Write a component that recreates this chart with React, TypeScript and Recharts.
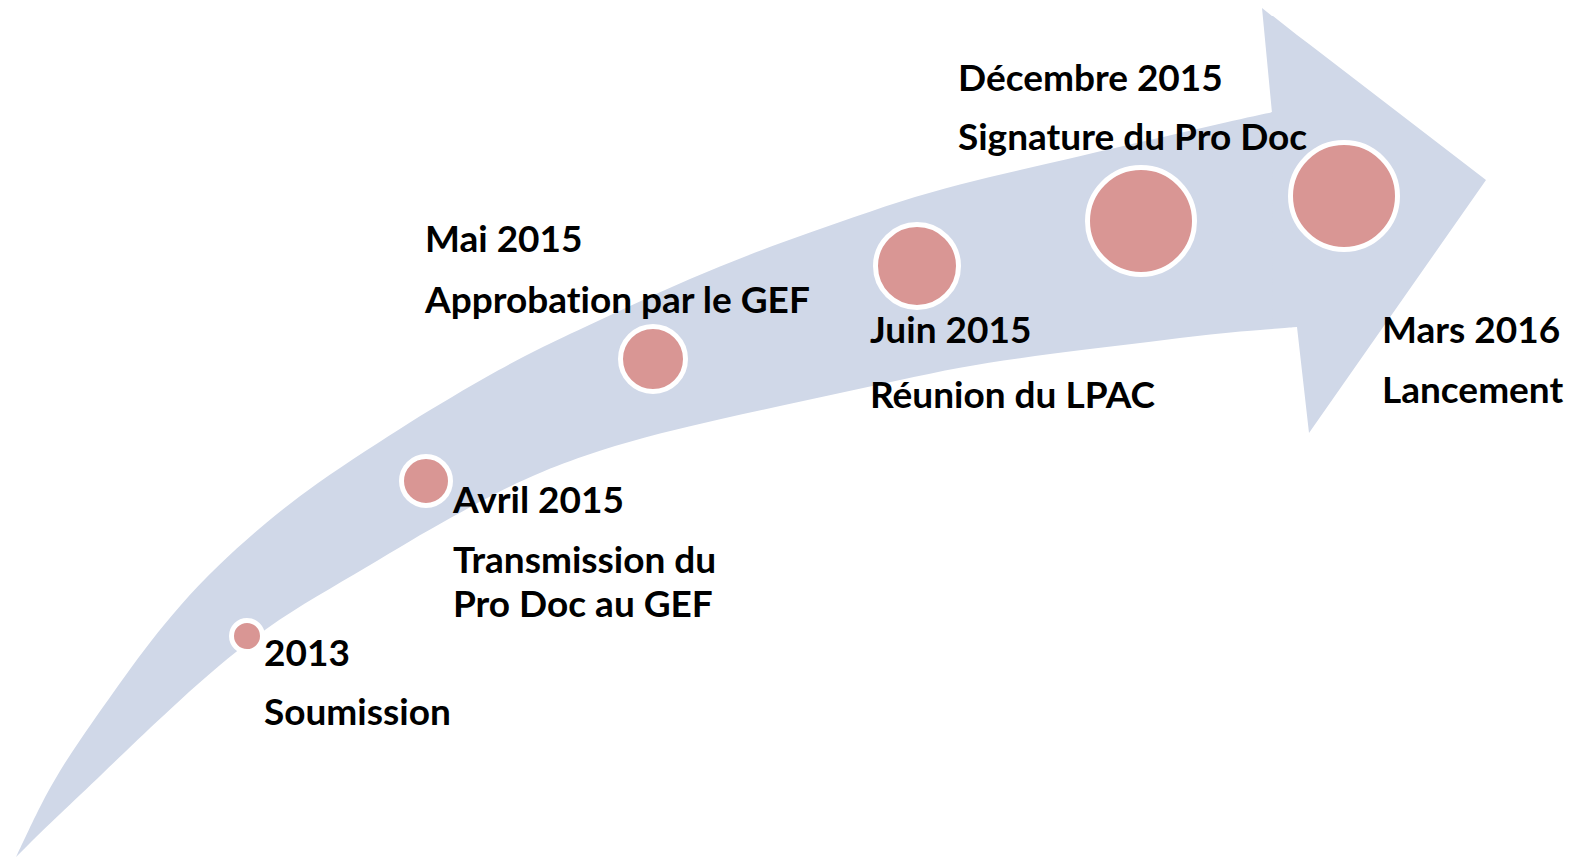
import React from 'react';
import { ComposedChart, Area, Scatter, XAxis, YAxis } from 'recharts';

// Milestone content
const milestoneDates = ['2013', 'Avril 2015', 'Mai 2015', 'Juin 2015', 'Décembre 2015', 'Mars 2016'];
const milestoneDescriptions = [
  ['Soumission'],
  ['Transmission du', 'Pro Doc au GEF'],
  ['Approbation par le GEF'],
  ['Réunion du LPAC'],
  ['Signature du Pro Doc'],
  ['Lancement'],
];

// Bubble positions (chart units) and radius
const bubbleX = [247, 426, 653, 917, 1141, 1344];
const bubbleY = [636, 481, 359, 266, 221, 196];
const bubbleR = [13, 22, 30, 39, 51, 51];

// Label anchors (chart units)
const labelX = [264, 453, 425, 870, 958, 1382];
const dateLabelY = [666, 513, 252, 343, 91, 343];
const descLabelY = [[725], [573, 617], [313], [408], [150], [403]];

// Arrow body outline (chart units)
const arrowX = [16, 24, 40, 60, 80, 103, 125, 150, 180, 217, 267, 317, 367, 410, 450, 500, 540, 600, 660, 720, 780, 840, 900, 960, 1020, 1080, 1150, 1210, 1272, 1297];
const arrowTop = [857, 840, 806, 770, 740, 707, 676, 642, 605, 566, 521, 483, 450, 422, 398, 369, 348, 320, 292, 266, 243, 222, 201, 184, 170, 156, 140, 126, 112, 107];
const arrowBottom = [857, 849, 833, 814, 795, 773, 752, 728, 700, 667, 627, 596, 567, 541, 518, 491, 472, 450, 433, 419, 406, 393, 380, 367, 358, 350, 342, 334, 329, 327];

// Arrow head outline (chart units)
const headX = [1262, 1272, 1273, 1297, 1309, 1486];
const headTop = [8, 16, 16, 35, 44, 180];
const headBottom = [8, 113, 327, 327, 433, 180];

const W = 1585;
const H = 858;
const ARROW_COLOR = '#D0D8E8';
const BUBBLE_COLOR = '#D99694';
const FONT = 'Lato, "Open Sans", sans-serif';
const FONT_SIZE = 37;

const bodyData = arrowX.map((x, i) => ({ x, range: [arrowTop[i], arrowBottom[i]] }));
const headData = headX.map((x, i) => ({ x, range: [headTop[i], headBottom[i]] }));
const bubbleData = bubbleX.map((x, i) => ({ x, y: bubbleY[i], r: bubbleR[i], name: milestoneDates[i] }));

const labelData: { x: number; y: number; text: string }[] = [];
milestoneDates.forEach((d, i) => {
  labelData.push({ x: labelX[i], y: dateLabelY[i], text: d });
  milestoneDescriptions[i].forEach((line, j) => {
    labelData.push({ x: labelX[i], y: descLabelY[i][j], text: line });
  });
});

const BubbleShape = (props: any) => {
  const { cx, cy, payload } = props;
  if (cx == null || cy == null) return null;
  return (
    <circle cx={cx} cy={cy} r={payload.r + 2.5} fill={BUBBLE_COLOR} stroke="#FFFFFF" strokeWidth={5} />
  );
};

const TextShape = (props: any) => {
  const { cx, cy, payload } = props;
  if (cx == null || cy == null) return null;
  return (
    <text
      x={cx}
      y={cy}
      fontFamily={FONT}
      fontWeight={700}
      fontSize={FONT_SIZE}
      fill="#000000"
      style={{ fontVariantLigatures: 'none' }}
    >
      {payload.text}
    </text>
  );
};

export default function App() {
  return (
    <div style={{ position: 'absolute', left: 0, top: 0, width: W, height: H, background: '#FFFFFF' }}>
      <ComposedChart width={W} height={H} margin={{ top: 0, right: 0, bottom: 0, left: 0 }}>
        <XAxis type="number" dataKey="x" domain={[0, W]} hide allowDataOverflow />
        <YAxis type="number" dataKey="y" domain={[0, H]} reversed hide allowDataOverflow />
        <Area
          data={bodyData}
          dataKey="range"
          type="basis"
          stroke="none"
          fill={ARROW_COLOR}
          fillOpacity={1}
          isAnimationActive={false}
          activeDot={false}
          dot={false}
        />
        <Area
          data={headData}
          dataKey="range"
          type="linear"
          stroke="none"
          fill={ARROW_COLOR}
          fillOpacity={1}
          isAnimationActive={false}
          activeDot={false}
          dot={false}
        />
        <Scatter data={bubbleData} shape={BubbleShape} isAnimationActive={false} />
        <Scatter data={labelData} shape={TextShape} isAnimationActive={false} />
      </ComposedChart>
    </div>
  );
}
